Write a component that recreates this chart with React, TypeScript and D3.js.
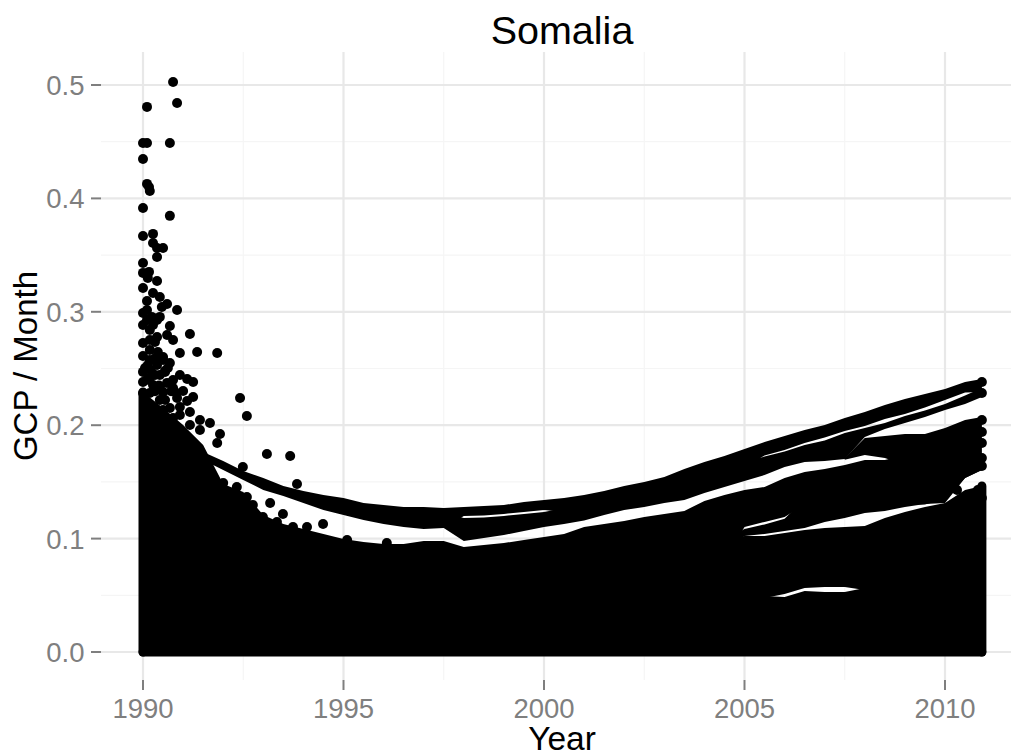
import React from "react";
import * as d3 from "d3";

const W = 1011, H = 753;
const xTicks = [1990, 1995, 2000, 2005, 2010];
const xMinor = [1992.5, 1997.5, 2002.5, 2007.5];
const yTicks = [0, 0.1, 0.2, 0.3, 0.4, 0.5];
const yMinor = [0.05, 0.15, 0.25, 0.35, 0.45];

const gridYears = [1990,1990.5,1991,1991.5,1992,1992.5,1993,1993.5,1994,1994.5,1995,1995.5,1996,1996.5,1997,1997.5,1998,1998.5,1999,1999.5,2000,2000.5,2001,2001.5,2002,2002.5,2003,2003.5,2004,2004.5,2005,2005.5,2006,2006.5,2007,2007.5,2008,2008.5,2009,2009.5,2010,2010.5,2010.92];

// top province track
const trackAHigh = [.1764,.1684,.1596,.1534,.1464,.1420,.1384,.1358,.1314,.1296,.1279,.1279,.1270,.1279,.1287,.1296,.1323,.1340,.1358,.1384,.1420,.1464,.1499,.1543,.1614,.1675,.1728,.1790,.1852,.1905,.1958,.2002,.2063,.2116,.2178,.2231,.2275,.2319,.2381,.2407];
const trackALow = [.1693,.1605,.1517,.1429,.1376,.1314,.1252,.1208,.1164,.1129,.1102,.1085,.1094,.1200,.1204,.1217,.1235,.1252,.1235,.1252,.1288,.1323,.1358,.1394,.1446,.1499,.1552,.1623,.1733,.1782,.1843,.1892,.1949,.1993,.2055,.2099,.2156,.2223,.2289,.2293];
// second province track
const trackBHigh = [.1235,.1182,.1186,.1200,.1217,.1235,.1270,.1305,.1341,.1376,.1411,.1446,.1499,.1552,.1605,.1676,.1724,.1768,.1826,.1865,.1932,.1976,.2020,.2081,.2130,.2187,.2262,.2328];
const trackBLow = [.1094,.0979,.1005,.1032,.1067,.1103,.1129,.1160,.1208,.1252,.1279,.1314,.1341,.1402,.1455,.1508,.1561,.1632,.1676,.1685,.1702,.1896,.1967,.2020,.2073,.2134,.2187,.2249];
// right-hand cluster, upper part
const trackCHigh = [.1711,.1887,.1905,.1923,.1923,.1976,.2046,.2073];
const trackCLow = [.1695,.1738,.1711,.1649,.1605,.1605,.1605,.1605];
// middle group
const groupHigh = [.0926,.0944,.0961,.0988,.1014,.1041,.1103,.1129,.1155,.1191,.1217,.1244,.1332,.1385,.1429,.1455,.1534,.1587,.1614,.1649,.1693,.1693,.1738,.1738,.1693,.1693,.1693];
const groupLow = [.0811,.0811,.0811,.0811,.0811,.0811,.0811,.0811,.0811,.0811,.0811,.0811,.0811,.0811,.1103,.1147,.1190,.1300,.1300,.1300,.1300,.1300,.1300,.1300,.1350,.1534,.1605];
// lower strand of the middle group
const strandHigh = [.0990,.1085,.1125,.1175,.1350,.1350,.1350,.1350,.1350,.1350,.1350,.1400,.1600,.1650];
const strandLow = [.0900,.1023,.1041,.1067,.1094,.1146,.1182,.1226,.1244,.1279,.1305,.1314,.1534,.1605];
// dense mass
const massHigh = [.2293,.2152,.2002,.1825,.1481,.1411,.1208,.1129,.1085,.1041,.0996,.0970,.0952,.0952,.0979,.0979,.0926,.0899,.0899,.0899,.0899,.0899,.0899,.0899,.0899,.0899,.0899,.0899,.0899,.0988,.1023,.1023,.1049,.1076,.1094,.1102,.1111,.1182,.1235,.1279,.1314,.1429,.1464];
const massLow = [.0370,.0370,.0370,.0370,.0370,.0370,.0370,.0370,.0370,.0370,.0370,.0370,.0370,.0370,.0370,.0370,.0370,.0370,.0370,.0370,.0370,.0370,.0370,.0370,.0370,.0370,.0370,.0370,.0370,.0370,.0370,.0476,.0512,.0564,.0573,.0573,.0547,.0370,.0370,.0370,.0370,.0370,.0370];
const baseHigh = [.0414,.0414,.0414,.0414,.0414,.0414,.0414,.0414,.0414,.0414,.0414,.0414,.0414,.0414,.0414,.0414,.0414,.0414,.0414,.0414,.0414,.0414,.0414,.0414,.0414,.0414,.0414,.0414,.0414,.0414,.0414,.0494,.0485,.0538,.0529,.0529,.0564,.0414,.0414,.0414,.0414,.0414,.0414];

// individually readable points (offset in years from 1990, value)
const pointYears = [.75,.85,.10,0,.10,.67,0,.10,.15,.17,0,.67,0,.25,.25,.35,.50,.35,0,0,.15,.12,.35,0,.25,.42,.10,.47,.60,.85,0,.10,.22,.35,.42,.25,.17,.67,.60,.75,1.17,0,.17,.35,.30,.37,.50,.92,1.35,1.85,0,.17,.05,.50,.67,.62,0,.42,.92,1.10,1.25,.75,.60,.25,1.0,.5,.75,.17,0,.85,1.10,.42,.67,.92,1.17,1.42,1.67,1.42,1.92,1.85,2.42,2.59,3.09,3.67,2.49,3.84,2.0,2.34,2.59,3.17,2.74,3.49,2.99,3.74,4.09,4.49,3.34,5.09,6.08,20.92,20.92,20.92,20.92,20.92,20.92,20.92,20.82,20.30,20.92,.30,.55,.20,.10,.40,.70,.30,.10,0,.17,.12,.35,.30,.55,.17,0,.42,.17,.55,.80,1.25,.50,.75,.92,1.17];
const pointValues = [.5027,.4842,.4807,.4489,.4489,.4489,.4348,.4128,.4101,.4066,.3916,.3846,.3669,.3687,.3607,.3563,.3563,.3484,.3431,.3343,.3352,.3299,.3272,.3210,.3166,.3131,.3096,.3043,.3069,.3016,.2990,.3016,.2955,.2928,.2955,.2884,.2840,.2875,.2796,.2752,.2805,.2725,.2752,.2778,.2734,.2646,.2602,.2637,.2646,.2637,.2611,.2575,.2505,.2575,.2549,.2505,.2381,.2443,.2443,.2408,.2381,.2399,.2373,.2355,.2302,.2293,.2328,.2284,.2284,.2240,.2214,.2223,.2152,.2161,.2117,.2046,.2020,.1958,.1923,.1843,.2240,.2081,.1746,.1729,.1632,.1482,.1491,.1455,.1367,.1314,.1297,.1217,.1191,.1103,.1103,.1129,.1147,.0988,.0961,.2381,.2284,.2046,.1940,.1843,.1711,.1640,.1429,.1429,.1358,.2590,.2480,.2480,.2400,.2350,.2300,.2300,.2928,.2884,.2664,.2531,.2531,.2443,.2470,.2417,.2470,.2328,.2179,.2223,.2293,.2249,.2134,.2064,.2090,.2002];

const x = d3.scaleLinear().domain([1990, 2010]).range([143, 945]);
const y = d3.scaleLinear().domain([0, 0.5]).range([652, 85]);

const panel = { left: 101, right: 1011, top: 52, bottom: 680 };
const R = 5;
const band = (yrs: number[], hi: number[], lo: number[] | number) => {
  const a = d3.area<number>()
    .x((d) => x(d))
    .y0((_, i) => y(typeof lo === "number" ? lo : lo[i]))
    .y1((_, i) => y(hi[i]));
  return a(yrs) as string;
};
const line = d3.line<[number, number]>().x((d) => x(d[0])).y((d) => y(d[1]));

const font = '"Liberation Sans", Arial, sans-serif';

export default function App() {
  const bands = [
    { id: "base", d: band(gridYears, baseHigh, 0) },
    { id: "mass", d: band(gridYears, massHigh, massLow) },
    { id: "strand", d: band(gridYears.slice(29), strandHigh, strandLow) },
    { id: "group", d: band(gridYears.slice(16), groupHigh, groupLow) },
    { id: "c", d: band(gridYears.slice(35), trackCHigh, trackCLow) },
    { id: "b", d: band(gridYears.slice(15), trackBHigh, trackBLow) },
    { id: "a", d: band(gridYears.slice(3), trackAHigh, trackALow) },
  ];
  const first = gridYears[0], last = gridYears[gridYears.length - 1];
  const edges: [number, number][][] = [
    [[first, 0], [last, 0]],
    [[first, 0], [first, massHigh[0]]],
    [[last, 0], [last, massHigh[massHigh.length - 1]]],
  ];
  return (
    <svg width={W} height={H} viewBox={`0 0 ${W} ${H}`} style={{ position: "absolute", left: 0, top: 0, background: "#fff" }}>
      <g>
        {yMinor.map((v) => <line key={v} x1={panel.left} x2={panel.right} y1={y(v)} y2={y(v)} stroke="#f5f5f5" strokeWidth={1.2} />)}
        {xMinor.map((v) => <line key={v} y1={panel.top} y2={panel.bottom} x1={x(v)} x2={x(v)} stroke="#f5f5f5" strokeWidth={1.2} />)}
        {yTicks.map((v) => <line key={v} x1={panel.left} x2={panel.right} y1={y(v)} y2={y(v)} stroke="#e8e8e8" strokeWidth={2.2} />)}
        {xTicks.map((v) => <line key={v} y1={panel.top} y2={panel.bottom} x1={x(v)} x2={x(v)} stroke="#e8e8e8" strokeWidth={2.2} />)}
      </g>
      <g fill="#000">
        {bands.map((b) => <path key={b.id} d={b.d} />)}
      </g>
      <g fill="none" stroke="#000" strokeWidth={R * 2 - 1} strokeLinecap="round">
        {edges.map((e, i) => <path key={i} d={line(e) as string} />)}
      </g>
      <g fill="#000">
        {pointYears.map((t, i) => <circle key={i} cx={x(1990 + t)} cy={y(pointValues[i])} r={R} />)}
      </g>
      <g stroke="#7f7f7f" strokeWidth={2}>
        {yTicks.map((v) => <line key={v} x1={91} x2={panel.left} y1={y(v)} y2={y(v)} />)}
        {xTicks.map((v) => <line key={v} y1={680} y2={690} x1={x(v)} x2={x(v)} />)}
      </g>
      <g fontFamily={font} fontSize={27.5} fill="#7f7f7f">
        {yTicks.map((v) => <text key={v} x={84.5} y={y(v) + 10} textAnchor="end">{v.toFixed(1)}</text>)}
        {xTicks.map((v) => <text key={v} x={x(v)} y={718} textAnchor="middle">{v}</text>)}
      </g>
      <g fontFamily={font} fill="#000">
        <text x={562} y={44} fontSize={39.5} textAnchor="middle">Somalia</text>
        <text x={562} y={750} fontSize={33.5} textAnchor="middle">Year</text>
        <text transform={`translate(37,366) rotate(-90)`} fontSize={33} textAnchor="middle">GCP / Month</text>
      </g>
    </svg>
  );
}
